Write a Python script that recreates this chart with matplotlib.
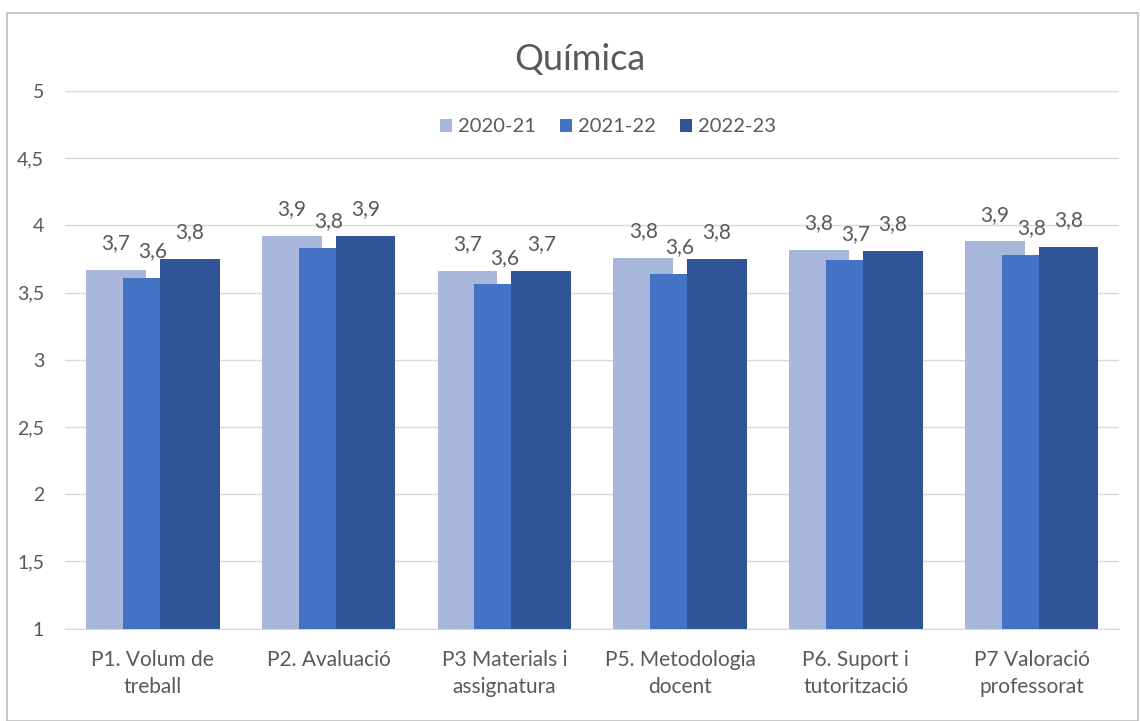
import matplotlib.pyplot as plt
import numpy as np
from matplotlib.patches import Rectangle

categories = ["P1. Volum de\ntreball", "P2. Avaluació", "P3 Materials i\nassignatura",
              "P5. Metodologia\ndocent", "P6. Suport i\ntutorització", "P7 Valoració\nprofessorat"]
years = ["2020-21", "2021-22", "2022-23"]
v2020 = [3.67, 3.92, 3.66, 3.76, 3.82, 3.88]
v2021 = [3.61, 3.83, 3.56, 3.64, 3.74, 3.78]
v2022 = [3.75, 3.92, 3.66, 3.75, 3.81, 3.84]

colors = ["#A9B6DB", "#4472C4", "#2F5597"]
grey = "#595959"
plt.rcParams['font.family'] = ['Lato', 'DejaVu Sans']

fig = plt.figure(figsize=(11.4, 7.21), dpi=100)
ax = fig.add_axes([0.057, 0.128, 0.925, 0.746])

# chart border
fig.patches.append(Rectangle((0.006, 0.0), 0.992, 0.982, transform=fig.transFigure,
                             fill=False, edgecolor="#BFBFBF", linewidth=1.2))

x = np.arange(len(categories))
step = 0.21
width = 0.34
for i, (vals, lab) in enumerate(zip([v2020, v2021, v2022], years)):
    pos = x + (i - 1) * step
    bars = ax.bar(pos, vals, width=width, color=colors[i], label=lab, zorder=2 + i)
    for b, v in zip(bars, vals):
        ax.annotate(f"{v:.1f}".replace(".", ","), (b.get_x() + b.get_width() / 2, v),
                    xytext=(0, 12), textcoords="offset points", ha="center", va="bottom",
                    fontsize=15, color=grey, zorder=10)

ax.set_ylim(1, 5)
ax.set_xlim(-0.5, len(categories) - 0.5)
ticks = np.arange(1, 5.01, 0.5)
ax.set_yticks(ticks)
ax.set_yticklabels([f"{t:g}".replace(".", ",") for t in ticks], fontsize=14, color=grey)
ax.set_xticks(x)
ax.set_xticklabels(categories, fontsize=15, color=grey, linespacing=1.45)
ax.tick_params(axis="both", length=0)
ax.tick_params(axis="y", pad=15)
ax.tick_params(axis="x", pad=15)
ax.yaxis.grid(True, color="#D9D9D9", linewidth=1, zorder=0)
ax.set_axisbelow(True)
for s in ["top", "right", "left"]:
    ax.spines[s].set_visible(False)
ax.spines["bottom"].set_color("#D9D9D9")

fig.text(0.509, 0.917, "Química", ha="center", va="center", fontsize=26, color=grey)
ax.legend(loc="center", bbox_to_anchor=(0.515, 0.933), ncol=3, frameon=False,
          fontsize=14.5, labelcolor=grey, handlelength=0.6, handleheight=0.6,
          columnspacing=1.2, handletextpad=0.3)

fig.savefig("out.png", dpi=100)
